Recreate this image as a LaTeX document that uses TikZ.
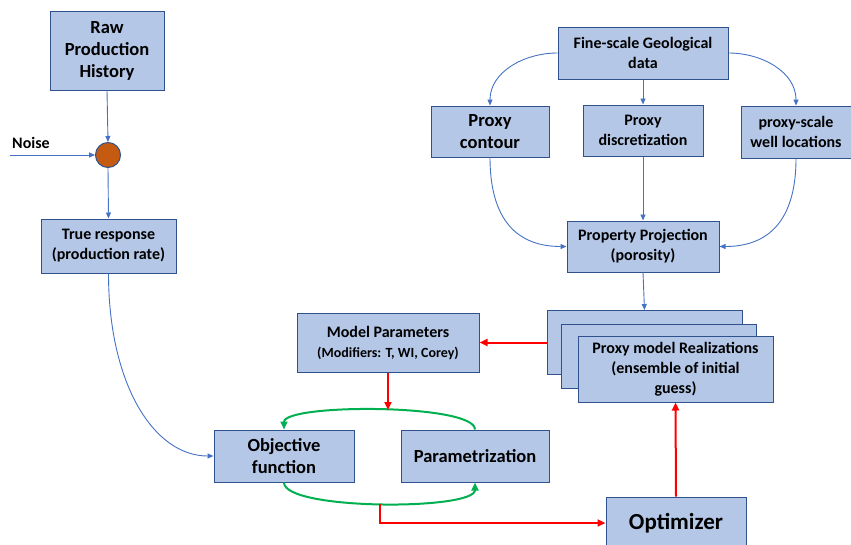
\documentclass[tikz,border=0pt]{standalone}
\usepackage{fontspec}
\setmainfont{Carlito}
\usetikzlibrary{arrows.meta}

\definecolor{boxfill}{HTML}{B4C7E7}
\definecolor{boxline}{HTML}{2F528F}
\definecolor{flowblue}{HTML}{4472C4}
\definecolor{noisefill}{HTML}{C55A11}
\definecolor{loopgreen}{HTML}{00B050}

\begin{document}
\begin{tikzpicture}[x=1pt, y=-1pt,
		box/.style={draw=boxline, fill=boxfill, line width=1pt, align=center, inner sep=0pt, font=\bfseries\fontsize{16}{20}\selectfont},
		bigtext/.style={font=\bfseries\fontsize{18.5}{22}\selectfont},
		flow/.style={flowblue, line width=0.9pt, -{Triangle[length=6pt, width=5pt]}},
		redflow/.style={red, line width=2pt, -{Triangle[length=8pt, width=7pt]}},
		greenflow/.style={loopgreen, line width=2pt, -{Triangle[length=8pt, width=7pt]}}]
	
	\useasboundingbox (0,0) rectangle (851,544);
	
	% ==========================================
	% TRUE RESPONSE BRANCH (LEFT)
	% ==========================================
	\node[box, bigtext, minimum width=114, minimum height=79] (raw) at (107,50.5) {Raw\\Production\\History};
	\node[circle, draw=boxline, fill=noisefill, line width=1pt, minimum size=25, inner sep=0pt] (noise) at (108,155) {};
	\node[font=\bfseries\fontsize{16}{19}\selectfont] (noiselbl) at (31,143) {Noise};
	\coordinate (noisein) at (10,155);
	\node[box, minimum width=135, minimum height=54] (truth) at (108.5,246) {True response\\(production rate)};
	
	\draw[flow] (raw.south) -- (noise.north);
	\draw[flow] (noisein) -- (noise.west);
	\draw[flow] (noise.south) -- (truth.north);
	
	% ==========================================
	% PROXY CONSTRUCTION (TOP RIGHT)
	% ==========================================
	\node[box, minimum width=170, minimum height=52] (geo) at (643,53) {Fine-scale Geological\\data};
	\node[box, bigtext, minimum width=118, minimum height=51] (contour) at (490,131.5) {Proxy\\contour};
	\node[box, minimum width=120, minimum height=51] (discret) at (643,130.5) {Proxy\\discretization};
	\node[box, minimum width=110, minimum height=52] (wells) at (796,132) {proxy-scale\\well locations};
	\node[box, minimum width=152, minimum height=51] (proj) at (643,246.5) {Property Projection\\(porosity)};
	
	\draw[flow] (geo.west) to[out=180, in=90] (contour.north);
	\draw[flow] (geo.south) -- (discret.north);
	\draw[flow] (geo.east) to[out=0, in=90] (wells.north);
	\draw[flow] (contour.south) to[out=-90, in=180, looseness=1.2] (proj.west);
	\draw[flow] (discret.south) -- (proj.north);
	\draw[flow] (wells.south) to[out=-90, in=0, looseness=1.2] (proj.east);
	
	% ==========================================
	% REALIZATIONS (stack of three sheets)
	% ==========================================
	\foreach \i/\cx/\cy in {1/644.5/342.5, 2/659/356.5} {
		\node[box, minimum width=195, minimum height=64] (real\i) at (\cx,\cy) {};
	}
	\node[box, minimum width=195, minimum height=66] (real3) at (675.5,369) {Proxy model Realizations\\(ensemble of initial\\guess)};
	
	\draw[flow] (proj.south) -- (real1.north);
	
	% ==========================================
	% HISTORY MATCHING LOOP
	% ==========================================
	\node[box, minimum width=182, minimum height=59] (params) at (388,342.5) {Model Parameters\\{\fontsize{14}{18}\selectfont (Modifiers: T, WI, Corey)}};
	\node[box, bigtext, minimum width=140, minimum height=52] (objfn) at (284,456) {Objective\\function};
	\node[box, bigtext, minimum width=148, minimum height=52] (parametrize) at (475,456) {Parametrization};
	\node[box, font=\bfseries\fontsize{23}{28}\selectfont, minimum width=140, minimum height=52] (optim) at (676,523) {Optimizer};
	
	\draw[flow] (truth.south) .. controls +(0,110) and +(-60,0) .. (objfn.west);
	
	\draw[greenflow] (parametrize.north) .. controls +(0,-26) and +(0,-26) .. coordinate[pos=0.5] (looptop) (objfn.north);
	\draw[greenflow] (objfn.south) .. controls +(0,28) and +(0,28) .. coordinate[pos=0.5] (loopbot) (parametrize.south);
	
	\draw[redflow] (real1.west) -- (params.east);
	\draw[redflow] (params.south) -- (params.south |- looptop);
	\draw[redflow] (loopbot) |- (optim.west);
	\draw[redflow] (optim.north) -- (real3.south);
	
\end{tikzpicture}
\end{document}
